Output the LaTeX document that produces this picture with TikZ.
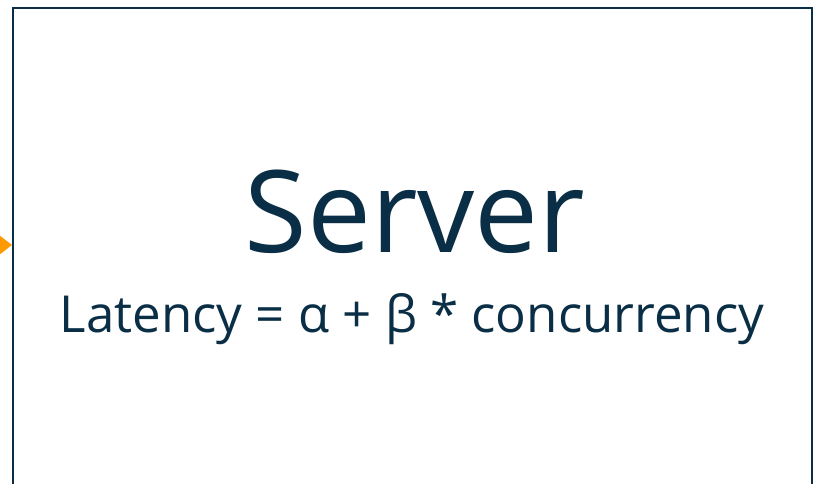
\documentclass[tikz,border=0pt]{standalone}
\usepackage{fontspec}
\setmainfont{Open Sans}
\usetikzlibrary{arrows.meta,positioning}
\definecolor{navy}{HTML}{0A2E45}
\definecolor{awsorange}{HTML}{FF9900}

\begin{document}
\begin{tikzpicture}[x=1pt, y=1pt,
    svrbox/.style={draw=navy, line width=2pt, minimum width=799pt, minimum height=500pt, anchor=north west},
    arr/.style={-{Triangle[length=12pt, width=18pt]}, draw=awsorange, fill=awsorange, line width=2pt},
    ttl/.style={font=\fontsize{114}{120}\selectfont, text=navy, anchor=base},
    eqn/.style={font=\fontsize{51}{56}\selectfont, text=navy, anchor=base}
]
\useasboundingbox (0,0) rectangle (815,484);
\node[svrbox] (server) at (12,477) {};
\node[ttl] (name) at (415,231) {Server};
\node[eqn] (law) at (412,151) {Latency = α + β * concurrency};
% incoming request, its tail lies off the page
\coordinate (in) at (-40,239);
\draw[arr] (in) -- (in -| server.west);
\end{tikzpicture}
\end{document}
